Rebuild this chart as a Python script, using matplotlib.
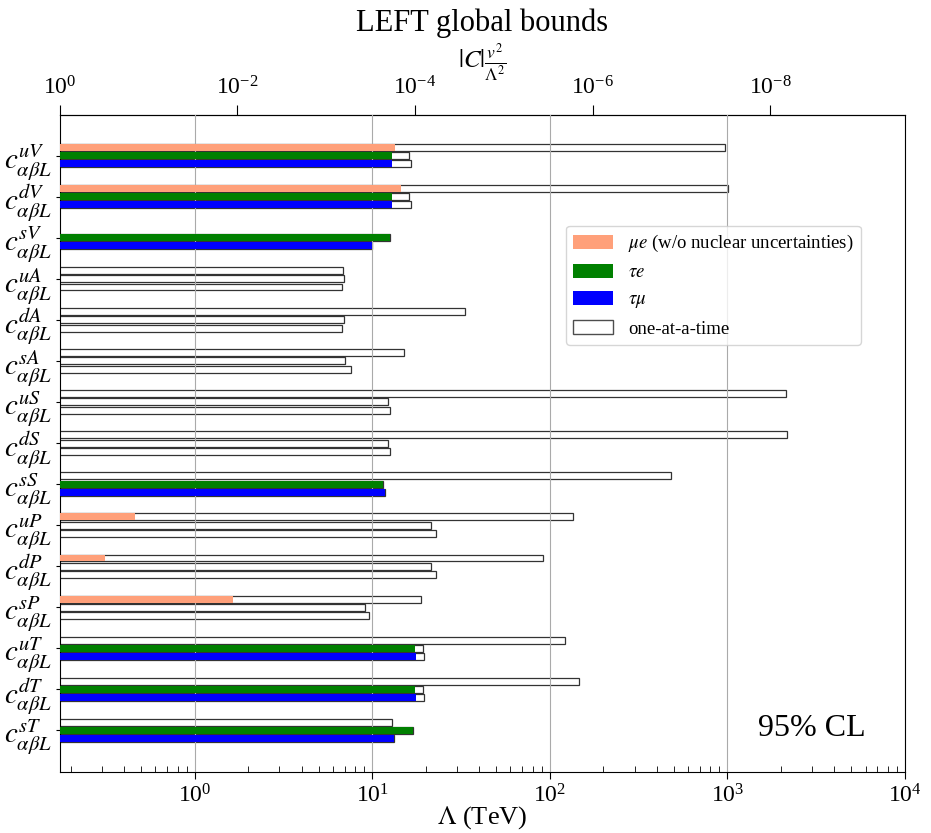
import numpy as np
import matplotlib
matplotlib.use('Agg')
import matplotlib.pyplot as plt
from matplotlib.patches import Patch
from matplotlib.ticker import NullLocator

plt.rcParams['font.family'] = ['Liberation Serif', 'DejaVu Serif']
plt.rcParams['mathtext.fontset'] = 'stix'

nan = np.nan

labels = ['uV', 'dV', 'sV', 'uA', 'dA', 'sA', 'uS', 'dS', 'sS',
          'uP', 'dP', 'sP', 'uT', 'dT', 'sT']

# Lambda bounds in TeV, global fit and one-at-a-time
mue_glob = [13.4, 14.5, nan, nan, nan, nan, nan, nan, nan, 0.463, 0.314, 1.64, nan, nan, nan]
mue_one = [972, 1010, nan, 6.8, 33.2, 15.0, 2150, 2160, 483, 135, 91.6, 18.9, 122, 146, 12.9]
taue_glob = [12.9, 12.9, 12.6, nan, nan, nan, nan, nan, 11.5, nan, nan, nan, 17.3, 17.3, 17.0]
taue_one = [16.1, 16.1, 12.6, 6.95, 6.95, 7.03, 12.3, 12.3, 11.5, 21.4, 21.4, 9.12, 19.2, 19.2, 17.0]
taumu_glob = [12.9, 12.9, 9.9, nan, nan, nan, nan, nan, 11.8, nan, nan, nan, 17.6, 17.6, 13.2]
taumu_one = [16.5, 16.5, 9.9, 6.74, 6.74, 7.6, 12.6, 12.6, 11.8, 22.8, 22.8, 9.64, 19.6, 19.6, 13.2]

top_ticks = [1, 1e-2, 1e-4, 1e-6, 1e-8]

v = 0.174  # TeV

fig = plt.figure(figsize=(9.31, 8.33), dpi=100)
ax = fig.add_axes([0.0644, 0.0738, 0.9076, 0.7887])

y = np.arange(len(labels))
h = 0.17
channels = [(mue_glob, mue_one, -0.2, '#FFA07A'),
            (taue_glob, taue_one, 0.0, 'green'),
            (taumu_glob, taumu_one, 0.2, 'blue')]

for glob, one, off, col in channels:
    ax.barh(y + off, one, height=h, color='white', edgecolor='0.2', linewidth=0.9, zorder=2)
    ax.barh(y + off, glob, height=h, color=col, edgecolor='none', zorder=3)

ax.set_xscale('log')
ax.set_xlim(v, 1e4)
ax.set_ylim(15, -1)
ax.set_yticks(y)
ax.set_yticklabels([r'$c^{%s}_{\alpha\beta L}$' % l for l in labels], fontsize=21)
ax.tick_params(axis='y', direction='out', length=3, pad=3)
ax.tick_params(axis='x', which='major', direction='out', length=5, pad=4, labelsize=17)
ax.tick_params(axis='x', which='minor', direction='in', length=4)
ax.grid(axis='x', which='major', color='#aaaaaa', linewidth=0.8, zorder=4)
ax.set_axisbelow(False)
ax.set_xlabel(r'$\Lambda$ (TeV)', fontsize=19, labelpad=-2)

f = lambda x: (v / np.asarray(x, dtype=float)) ** 2
sec = ax.secondary_xaxis('top', functions=(f, f))
sec.set_xticks(top_ticks)
sec.xaxis.set_minor_locator(NullLocator())
sec.tick_params(direction='out', length=7, labelsize=17)
sec.set_xlabel(r'$|C|\frac{v^2}{\Lambda^2}$', fontsize=18, labelpad=6)

fig.text(0.518, 0.972, 'LEFT global bounds', ha='center', va='center', fontsize=22)
ax.text(0.89, 0.065, '95% CL', transform=ax.transAxes, ha='center', va='center', fontsize=23)

handles = [Patch(facecolor='#FFA07A', edgecolor='none'),
           Patch(facecolor='green', edgecolor='none'),
           Patch(facecolor='blue', edgecolor='none'),
           Patch(facecolor='white', edgecolor='0.3')]
ax.legend(handles, [r'$\mu e$ (w/o nuclear uncertainties)', r'$\tau e$', r'$\tau\mu$', 'one-at-a-time'],
          loc='upper right', bbox_to_anchor=(0.959, 0.845), fontsize=13.5,
          handlelength=2.1, handleheight=0.8, framealpha=0.8)

fig.savefig('out.png', dpi=100)
